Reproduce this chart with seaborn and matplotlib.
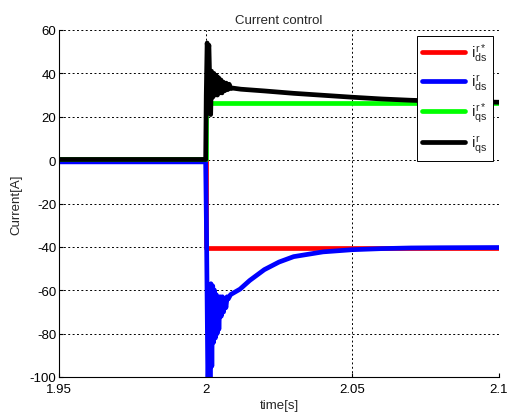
import numpy as np
import pandas as pd
import matplotlib
matplotlib.use("Agg")
import matplotlib.pyplot as plt
import seaborn as sns

# Values
t_ref = [1.95, 2.0, 2.0, 2.1]
ids_ref = [0.0, 0.0, -40.3, -40.3]
iqs_ref = [0.3, 0.3, 26.3, 26.3]

t_ids = [1.95, 2.0, 2.0003, 2.0008, 2.0012, 2.0015, 2.0018, 2.0021, 2.0024,
         2.0027, 2.003, 2.0033, 2.0036, 2.0039, 2.0042, 2.0045, 2.0049,
         2.0053, 2.0057, 2.0061, 2.0065, 2.0069, 2.0073, 2.0077, 2.0085,
         2.0117, 2.015, 2.02, 2.025, 2.03, 2.04, 2.05, 2.06, 2.07, 2.08, 2.1]
ids = [-0.8, -0.8, -35, -110, -60, -105, -57, -95, -58,
       -84, -60, -82, -62, -80, -64, -78, -63,
       -72, -63, -70, -64, -68, -63, -64, -62,
       -59.5, -55.5, -50.5, -47, -44.5, -42.3, -41.3, -40.8, -40.5, -40.4, -40.3]

t_iqs = [1.95, 2.0, 2.0002, 2.0005, 2.0008, 2.0011, 2.0014, 2.0017, 2.002,
         2.0024, 2.0028, 2.0032, 2.0036, 2.004, 2.0044, 2.0048, 2.0052,
         2.0056, 2.006, 2.0065, 2.007, 2.0075, 2.008, 2.0086, 2.0093,
         2.012, 2.02, 2.03, 2.04, 2.05, 2.06, 2.07, 2.08, 2.09, 2.1]
iqs = [0.3, 0.3, 30, 54, 50, 53, 35, 21, 41,
       29, 40, 30, 39, 30, 38, 31, 37,
       31, 36, 32, 35.5, 32.5, 35, 33, 33.2,
       32.7, 31.9, 30.8, 29.9, 29.0, 28.2, 27.6, 27.2, 26.9, 26.7]

labels = [r"$i_{ds}^{r*}$", r"$i_{ds}^{r}$", r"$i_{qs}^{r*}$", r"$i_{qs}^{r}$"]
colors = ["#ff0000", "#0000ff", "#00ff00", "#000000"]

x_ticks = [1.95, 2.0, 2.05, 2.1]
x_ticklabels = ["1.95", "2", "2.05", "2.1"]
y_ticks = [-100, -80, -60, -40, -20, 0, 20, 40, 60]

sns.set_style("white")
plt.rcParams["font.family"] = ["Liberation Sans", "DejaVu Sans"]
plt.rcParams["mathtext.fontset"] = "custom"
plt.rcParams["mathtext.rm"] = "Liberation Sans"
plt.rcParams["mathtext.it"] = "Liberation Sans"

fig, ax = plt.subplots(figsize=(5.07, 4.14), dpi=100)
fig.subplots_adjust(left=59 / 507, right=499 / 507, top=1 - 31 / 414, bottom=1 - 378 / 414)

series = [(t_ref, ids_ref), (t_ids, ids), (t_ref, iqs_ref), (t_iqs, iqs)]
for (tt, yy), lab, col in zip(series, labels, colors):
    df = pd.DataFrame({"t": tt, "i": yy})
    sns.lineplot(data=df, x="t", y="i", ax=ax, color=col, lw=3.4,
                 sort=False, estimator=None, label=lab)

ax.set_xlim(1.95, 2.1)
ax.set_ylim(-100, 60)
ax.set_xticks(x_ticks)
ax.set_xticklabels(x_ticklabels)
ax.set_yticks(y_ticks)
ax.set_yticklabels([str(v) for v in y_ticks])
ax.tick_params(direction="in", length=3, labelsize=9.5, colors="black",
               bottom=True, left=True, pad=2)
ax.tick_params(axis="x", pad=4)
ax.grid(True, color="black", linestyle=(0, (2, 2.5)), linewidth=0.7)
for s in ["top", "right"]:
    ax.spines[s].set_visible(False)
for s in ["left", "bottom"]:
    ax.spines[s].set_color("black")
    ax.spines[s].set_linewidth(0.8)

ax.set_title("Current control", fontsize=9.5, pad=5)
ax.set_xlabel("time[s]", fontsize=9.5, labelpad=3)
ax.set_ylabel("Current[A]", fontsize=9.5, labelpad=5)

leg = ax.legend(loc="upper right", fontsize=11, frameon=True, fancybox=False,
                framealpha=1, edgecolor="black", handlelength=2.8,
                borderaxespad=0.4, labelspacing=0.55, handletextpad=0.4,
                borderpad=0.35)
leg.get_frame().set_linewidth(0.7)

fig.savefig("out.png", dpi=100)
